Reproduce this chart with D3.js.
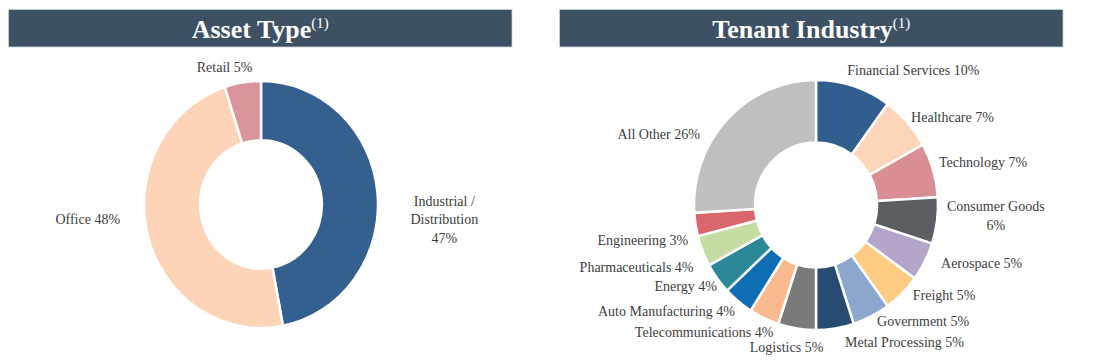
<!DOCTYPE html>
<html>
<head>
<meta charset="utf-8">
<script src="https://cdn.jsdelivr.net/npm/d3@7"></script>
<style>
  body { margin: 0; background: #fff; }
  text { font-family: "Liberation Serif", "Times New Roman", serif; }
</style>
</head>
<body>
<div id="chart"></div>
<script>
// data
var assetNames = ["Industrial / Distribution", "Office", "Retail"];
var assetValues = [47, 48, 5];
var assetColors = ["#33608f", "#fdd4b7", "#d9959a"];

var tenantNames = ["Financial Services", "Healthcare", "Technology", "Consumer Goods", "Aerospace",
    "Freight", "Government", "Metal Processing", "Logistics", "Telecommunications",
    "Auto Manufacturing", "Energy", "Pharmaceuticals", "Engineering", "All Other"];
var tenantValues = [10, 7, 7, 6, 5, 5, 5, 5, 5, 4, 4, 4, 4, 3, 26];
var tenantColors = ["#315e8e", "#fdd5b9", "#d98e95", "#5b5e63", "#b4a6ca", "#fdcb82", "#8ba7cd",
    "#274b71", "#7a7a7a", "#f9ba90", "#0f6db4", "#2a8897", "#c4dca2", "#d9676c", "#bfbfbf"];

// label line breaks and nudges (Excel style manual placement)
var assetLines = [["Industrial /", "Distribution", "47%"], ["Office 48%"], ["Retail 5%"]];
var assetNudge = [[34, 29], [-28, -23], [-13, 11]];
var tenantNudge = [[51, 8], [24, 11], [23, -1], [31, -8], [32, -10], [22, -16], [39, -18], [65, -11],
    [-6, -6], [-48, -9], [-54, -9], [-9, -7], [-40, 7], [-25, 12], [-48, 32]];

var W = 1099, H = 363;
var svg = d3.select("#chart").append("svg")
    .attr("width", W)
    .attr("height", H);

// header bars
function header(x, w, title) {
    svg.append("rect")
        .attr("x", x).attr("y", 9.5)
        .attr("width", w).attr("height", 37.5)
        .attr("fill", "#3e5064")
        .attr("stroke", "#c9d0d8")
        .attr("stroke-width", 0.8);
    var t = svg.append("text")
        .attr("x", x + w / 2)
        .attr("y", 38)
        .attr("text-anchor", "middle")
        .attr("fill", "#ffffff")
        .style("font-size", "26px")
        .style("font-weight", "bold");
    t.append("tspan").text(title);
    t.append("tspan")
        .attr("dy", -10)
        .style("font-size", "15px")
        .style("font-weight", "normal")
        .text("(1)");
}
header(8.5, 503.5, "Asset Type");
header(559.5, 503.5, "Tenant Industry");

function donut(cx, cy, rx, ry, innerRatio, values, colors, names, nudges, linesOf) {
    var pie = d3.pie().sort(null).value(function (d) { return d; });
    var arcs = pie(values);
    var arc = d3.arc().innerRadius(ry * innerRatio).outerRadius(ry);
    var labelArc = d3.arc().innerRadius(150).outerRadius(150);

    var g = svg.append("g")
        .attr("transform", "translate(" + cx + "," + cy + ") scale(" + (rx / ry) + ",1)");
    g.selectAll("path")
        .data(arcs)
        .enter()
        .append("path")
        .attr("d", arc)
        .attr("fill", function (d, i) { return colors[i]; })
        .attr("stroke", "#ffffff")
        .attr("stroke-width", 2.5)
        .attr("vector-effect", "non-scaling-stroke");

    var lg = svg.append("g").attr("transform", "translate(" + cx + "," + cy + ")");
    arcs.forEach(function (d, i) {
        var c = labelArc.centroid(d);
        var x = c[0] + nudges[i][0], y = c[1] + nudges[i][1];
        var lines = linesOf(i);
        var t = lg.append("text")
            .attr("text-anchor", "middle")
            .attr("fill", "#3d3d3d")
            .style("font-size", "14px");
        lines.forEach(function (l, k) {
            t.append("tspan")
                .attr("x", x)
                .attr("y", y + (k - (lines.length - 1) / 2) * 18.5)
                .attr("dy", "0.35em")
                .text(l);
        });
    });
}

donut(261, 204.5, 117, 123.5, 0.52, assetValues, assetColors, assetNames, assetNudge,
    function (i) { return assetLines[i]; });

donut(816, 205, 122, 125, 0.5, tenantValues, tenantColors, tenantNames, tenantNudge,
    function (i) {
        if (tenantNames[i] === "Consumer Goods") return ["Consumer Goods", tenantValues[i] + "%"];
        return [tenantNames[i] + " " + tenantValues[i] + "%"];
    });
</script>
</body>
</html>
